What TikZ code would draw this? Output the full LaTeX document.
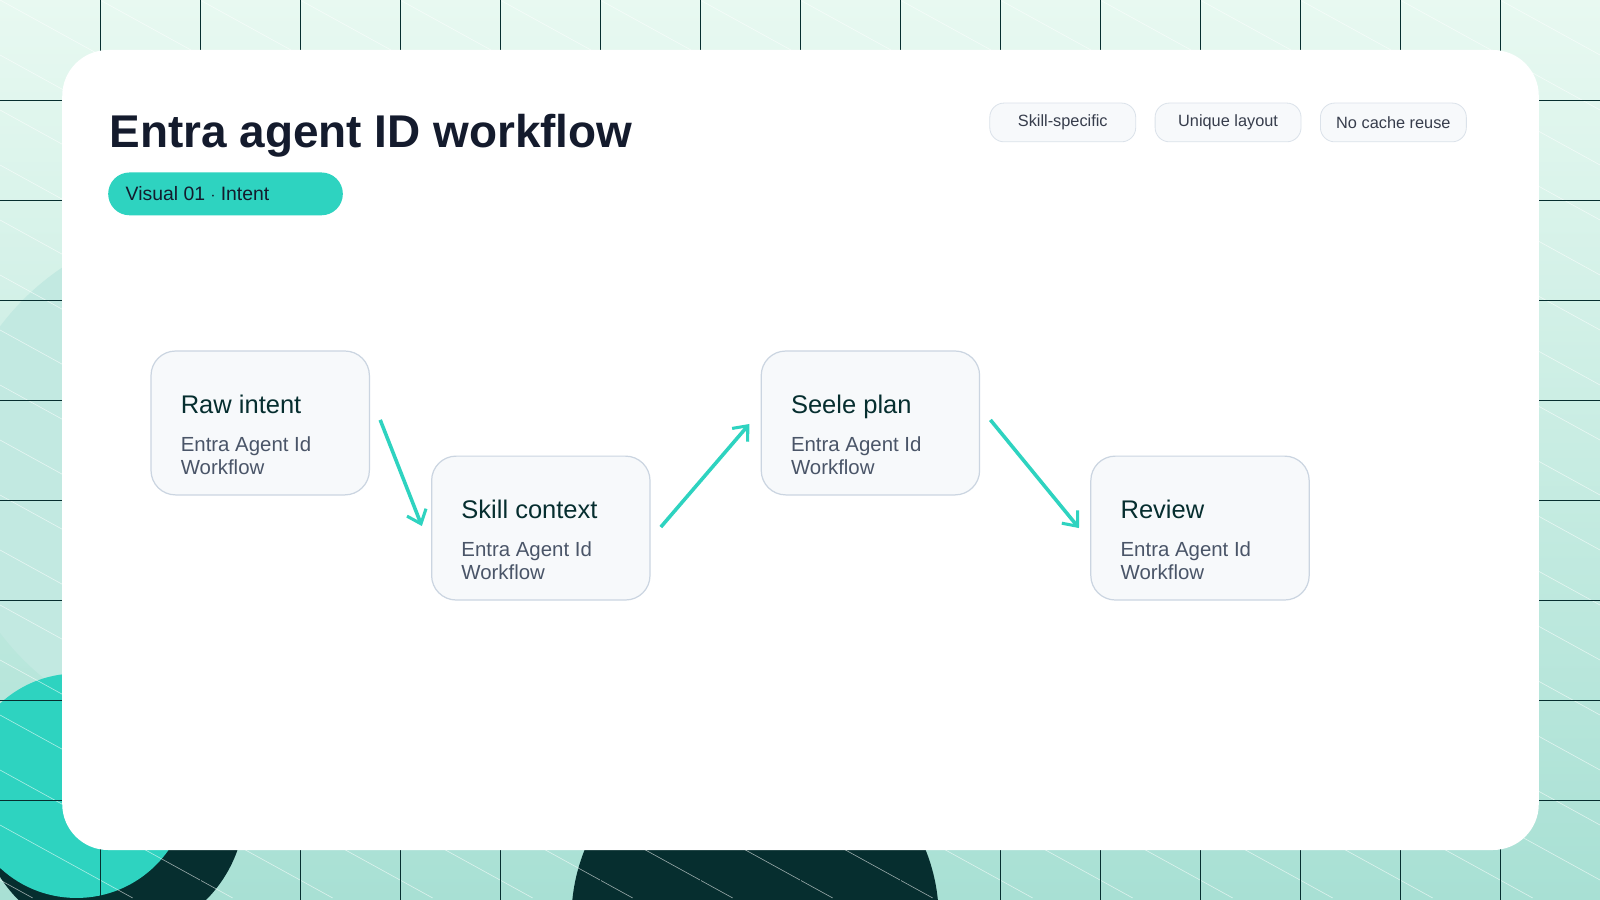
\documentclass[tikz,border=0pt]{standalone}
\usepackage{fontspec}
\setmainfont{Liberation Sans}
\usetikzlibrary{arrows.meta}
\definecolor{teal}{HTML}{2ED3C0}
\definecolor{dark}{HTML}{062E2F}
\definecolor{pale}{HTML}{A8E0D4}
\definecolor{topc}{HTML}{E8F9F1}
\definecolor{ink}{HTML}{141B2D}
\definecolor{sub}{HTML}{4A5568}
\definecolor{bord}{HTML}{CBD5E1}
\definecolor{nodefill}{HTML}{F7F9FB}
\tikzset{
 stepbox/.style={draw=bord,line width=1.2pt,fill=nodefill,rounded corners=24pt,minimum width=214pt,minimum height=141pt,inner sep=0pt},
 ttl/.style={anchor=base west,text=dark,font=\fontsize{25}{25}\selectfont,inner sep=0pt},
 sbt/.style={anchor=north west,text=sub,font=\fontsize{20}{22}\selectfont,align=left,inner sep=0pt},
 tag/.style={draw=bord!70,line width=0.8pt,fill=nodefill,rounded corners=14pt,minimum width=143pt,minimum height=38pt,inner sep=0pt,font=\fontsize{16}{16}\selectfont,text=ink!85},
 flow/.style={draw=teal,line width=3.5pt,-{Straight Barb[length=12pt,width=20pt,line width=3pt]}}
}
\begin{document}
\begin{tikzpicture}[x=1pt,y=-1pt]
\useasboundingbox (0,0) rectangle (1568,882);
\shade[top color=topc,bottom color=pale] (0,0) rectangle (1568,882);
\begin{scope}
\clip (0,0) rectangle (1568,882);
\fill[pale!70] (200,470) circle (250);
\fill[dark] (740,900) circle (180);
\fill[dark] (110,790) circle (130);
\fill[teal] (75,770) circle (110);
\foreach \i in {-20,...,20}{
 \draw[white,opacity=0.6,line width=0.6pt] (\i*98,0) -- ++(1600,880);
}
\foreach \x in {98,196,...,1568} \draw[dark,line width=0.8pt] (\x,0) -- (\x,882);
\foreach \y in {98,196,...,882} \draw[dark,line width=0.8pt] (0,\y) -- (1568,\y);
\end{scope}
\fill[white,rounded corners=45pt] (61,49) rectangle (1508,833);
\node[anchor=base west,inner sep=0pt,font=\fontsize{45}{45}\selectfont\bfseries,text=ink] (title) at (107,145) {Entra agent ID workflow};
\node[fill=teal,rounded corners=21pt,minimum width=230pt,minimum height=42pt,inner sep=0pt] (pill) at (221,190) {};
\node[anchor=west,inner sep=0pt,font=\fontsize{19}{19}\selectfont,text=ink] (pilltext) at (123,190) {Visual 01 $\cdot$ Intent};
\node[tag] (t1) at (1041.5,120) {Skill-specific};
\node[tag] (t2) at (1203.5,120) {Unique layout};
\node[tag] (t3) at (1365.5,120) {No cache reuse};
\node[stepbox] (a) at (255,414.5) {};
\node[stepbox] (b) at (530,517.5) {};
\node[stepbox] (c) at (853,414.5) {};
\node[stepbox] (d) at (1176,517.5) {};
\foreach \n/\t/\x/\y in {a/Raw intent/177/405, b/Skill context/452/508, c/Seele plan/775/405, d/Review/1098/508}{
 \node[ttl] (\n t) at (\x,\y) {\t};
 \node[sbt] (\n s) at (\x,\y+23) {Entra Agent Id\\Workflow};
}
\draw[flow] ([xshift=10pt,yshift=3pt]a.east) -- ([xshift=-9pt,yshift=2pt]b.west);
\draw[flow] ([xshift=10pt,yshift=1pt]b.east) -- ([xshift=-11pt,yshift=-1pt]c.west);
\draw[flow] ([xshift=10pt,yshift=3pt]c.east) -- ([xshift=-11pt,yshift=0pt]d.west);
\end{tikzpicture}
\end{document}
